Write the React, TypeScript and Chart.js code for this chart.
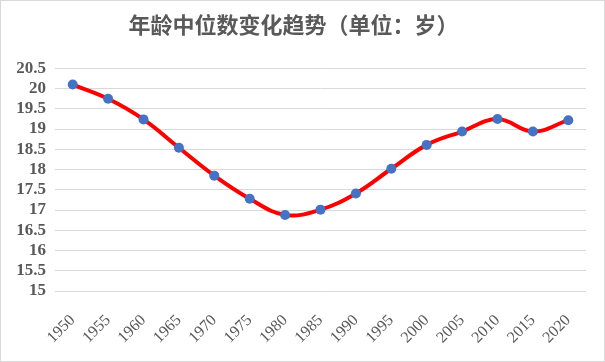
import React, { useEffect, useRef } from "react";
import { Chart, registerables } from "chart.js";

Chart.register(...registerables);

const years = ["1950","1955","1960","1965","1970","1975","1980","1985","1990","1995","2000","2005","2010","2015","2020"];
const medianAge = [20.1, 19.75, 19.24, 18.54, 17.85, 17.28, 16.88, 17.01, 17.41, 18.02, 18.61, 18.94, 19.25, 18.94, 19.22];
const titleText = "年龄中位数变化趋势（单位：岁）";
const yMin = 15;
const yMax = 20.5;
const yStep = 0.5;

const serif = "'Liberation Serif', 'Times New Roman', serif";

export default function App() {
  const ref = useRef<HTMLCanvasElement | null>(null);
  useEffect(() => {
    document.body.style.margin = "0";
    const ctx = ref.current!;
    const chart = new Chart(ctx, {
      type: "line",
      data: {
        labels: years,
        datasets: [
          {
            data: medianAge,
            borderColor: "#FF0000",
            borderWidth: 4,
            tension: 0.4,
            pointRadius: 5,
            pointBackgroundColor: "#4472C4",
            pointBorderColor: "#4472C4",
            pointBorderWidth: 0,
            fill: false,
          },
        ],
      },
      options: {
        animation: false,
        responsive: false,
        maintainAspectRatio: false,
        layout: { padding: { left: 0, right: 18, top: 0, bottom: 0 } },
        plugins: {
          legend: { display: false },
          tooltip: { enabled: false },
          title: {
            display: true,
            text: titleText,
            color: "#595959",
            font: { family: "'Noto Sans CJK SC'", size: 22, weight: "bold", lineHeight: 1.2 },
            padding: { top: 10, bottom: 31 },
          },
        },
        scales: {
          x: {
            offset: true,
            grid: { display: false, drawTicks: false },
            border: { display: false },
            ticks: {
              minRotation: 45,
              maxRotation: 45,
              autoSkip: false,
              color: "#595959",
              padding: 20,
              font: { family: serif, size: 16 },
            },
            afterFit: (s: any) => { s.height = 70; },
          },
          y: {
            min: yMin,
            max: yMax,
            grid: { color: "#d9d9d9", lineWidth: 1, drawTicks: false },
            border: { display: false },
            ticks: {
              stepSize: yStep,
              autoSkip: false,
              color: "#595959",
              padding: 9,
              font: { family: serif, size: 17, weight: "bold" },
              callback: (v: any) => String(v),
            },
            afterFit: (s: any) => { s.width = 54; },
          },
        },
      },
    });
    return () => chart.destroy();
  }, []);
  return (
    <div style={{ position: "relative", width: 605, height: 362, boxSizing: "border-box", border: "1px solid #d9d9d9", background: "#fff" }}>
      <canvas ref={ref} width={603} height={360} style={{ display: "block" }} />
    </div>
  );
}
